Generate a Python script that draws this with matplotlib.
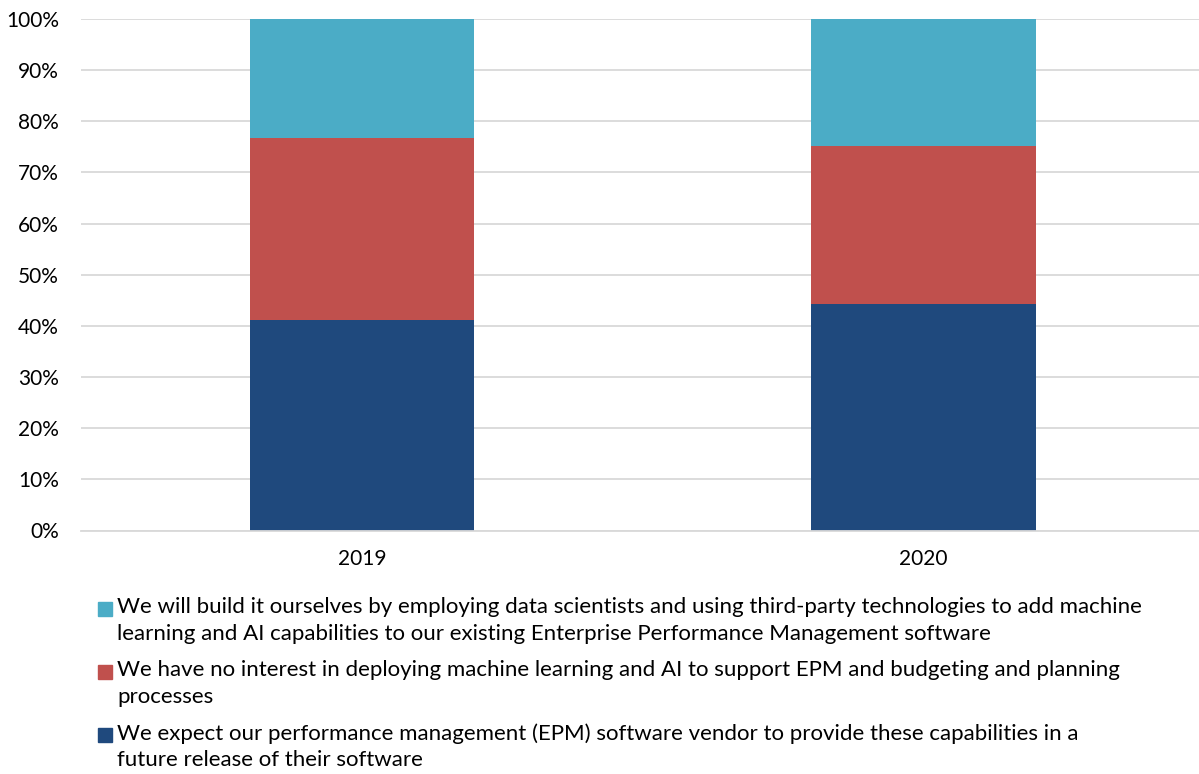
import matplotlib
matplotlib.use("Agg")
from matplotlib import pyplot as plt
from matplotlib.patches import Rectangle
import numpy as np

plt.rcParams['font.family'] = ['Lato', 'DejaVu Sans']

years = ["2019", "2020"]
# shares, bottom to top
expect_vendor = [41.2, 44.3]
no_interest = [35.5, 30.9]
build_ourselves = [23.3, 24.8]

series = [expect_vendor, no_interest, build_ourselves]
colors = ["#1F497D", "#C0504D", "#4BACC6"]
labels = [
    "We expect our performance management (EPM) software vendor to provide these capabilities in a\nfuture release of their software",
    "We have no interest in deploying machine learning and AI to support EPM and budgeting and planning\nprocesses",
    "We will build it ourselves by employing data scientists and using third-party technologies to add machine\nlearning and AI capabilities to our existing Enterprise Performance Management software",
]

fig = plt.figure(figsize=(11.99, 7.74), dpi=100)
ax = fig.add_axes([81 / 1199, 1 - 530.5 / 774, 1 - 81 / 1199, 511.5 / 774])

x = np.arange(len(years))
bottom = np.zeros(len(years))
for vals, c in zip(series, colors):
    ax.bar(x, vals, width=0.4, bottom=bottom, color=c, zorder=2)
    bottom += np.array(vals)

ax.set_xlim(-0.5, 1.49)
ax.set_ylim(0, 100)
ax.set_yticks(np.arange(0, 101, 10))
ax.set_yticklabels([f"{v}%" for v in range(0, 101, 10)])
ax.set_xticks(x)
ax.set_xticklabels(years)
ax.grid(axis="y", color="#D9D9D9", linewidth=1.3, zorder=0)
for s in ["top", "right", "left"]:
    ax.spines[s].set_visible(False)
ax.spines["bottom"].set_color("#D9D9D9")
ax.spines["bottom"].set_linewidth(1.3)
ax.tick_params(axis="both", length=0, labelsize=15, colors="black")
ax.tick_params(axis="y", pad=16)
ax.tick_params(axis="x", pad=13)

# legend, top entry first
ys = [609, 672, 735]
for i, (lab, c) in enumerate(zip(labels[::-1], colors[::-1])):
    yc = ys[i]
    fig.patches.append(Rectangle((98 / 1199, 1 - (yc + 7) / 774), 14 / 1199, 14 / 774,
                                 transform=fig.transFigure, color=c))
    fig.text(117 / 1199, 1 - (yc - 12) / 774, lab, fontsize=16, va="top", ha="left",
             linespacing=1.42, color="black")

fig.savefig("out.png", dpi=100)
